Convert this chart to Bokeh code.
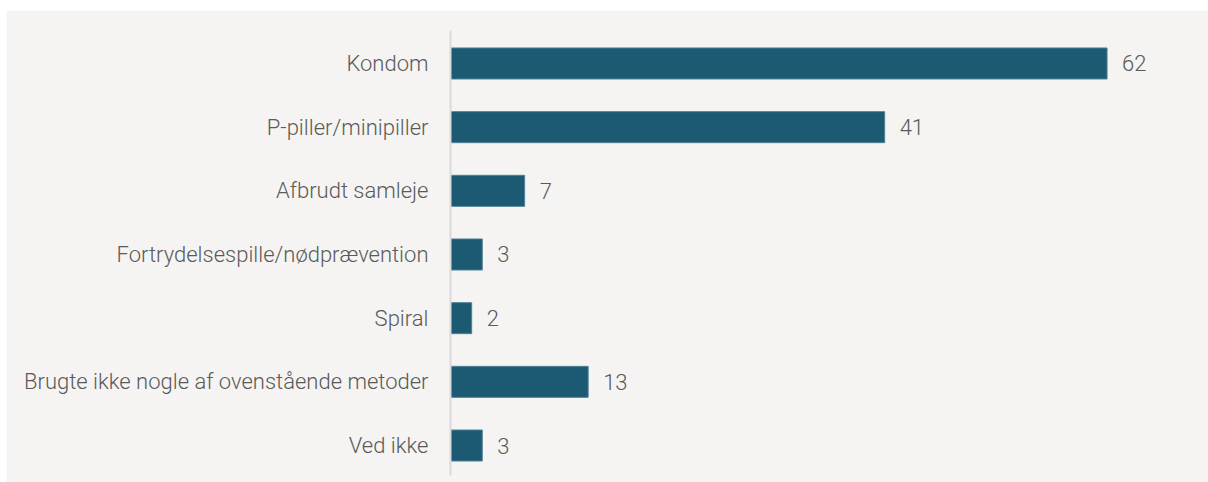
from bokeh.plotting import figure
from bokeh.models import Range1d, FixedTicker, ColumnDataSource, Spacer
from bokeh.layouts import column, row
from bokeh.core.properties import value
from bokeh.embed import file_html
from bokeh.resources import INLINE

categories = [
    "Kondom",
    "P-piller/minipiller",
    "Afbrudt samleje",
    "Fortrydelsespille/nødprævention",
    "Spiral",
    "Brugte ikke nogle af ovenstående metoder",
    "Ved ikke",
]
values = [62, 41, 7, 3, 2, 13, 3]

BG = "#f5f4f2"
BAR = "#1b5a72"
TXT = "#5a5a5a"
FONT = "Roboto Light, Roboto"

pos = list(range(len(categories)))
src = ColumnDataSource(dict(y=pos, v=values, lbl=[str(v) for v in values]))

fig = figure(
    width=1202, height=472,
    x_range=Range1d(0, 71.58),
    y_range=Range1d(6.471, -0.518),
    output_backend="svg", toolbar_location=None,
    min_border_left=444, min_border_right=0,
    min_border_top=20, min_border_bottom=7,
)
fig.background_fill_color = BG
fig.border_fill_color = BG
fig.outline_line_color = None
fig.xgrid.visible = False
fig.ygrid.visible = False
fig.xaxis.visible = False

fig.hbar(y="y", right="v", left=0, height=0.487, source=src,
         fill_color=BAR, line_color="#4f8095", line_width=1)
fig.text(x="v", y="y", text="lbl", source=src, x_offset=15,
         text_baseline="middle", text_align="left",
         text_font=value(FONT), text_font_size="22px", text_color=TXT)

ax = fig.yaxis[0]
ax.ticker = FixedTicker(ticks=pos)
ax.major_label_overrides = {i: c for i, c in zip(pos, categories)}
ax.major_tick_line_color = None
ax.minor_tick_line_color = None
ax.major_tick_out = 0
ax.major_tick_in = 0
ax.major_label_standoff = 22
ax.axis_line_color = "#d9d9d9"
ax.axis_line_width = 2
ax.major_label_text_font = FONT
ax.major_label_text_font_size = "22px"
ax.major_label_text_color = TXT

p = column(Spacer(height=10, width=1208),
           row(Spacer(width=6, height=472), fig),
           spacing=0)

open("out.html", "w").write(file_html(p, INLINE))
